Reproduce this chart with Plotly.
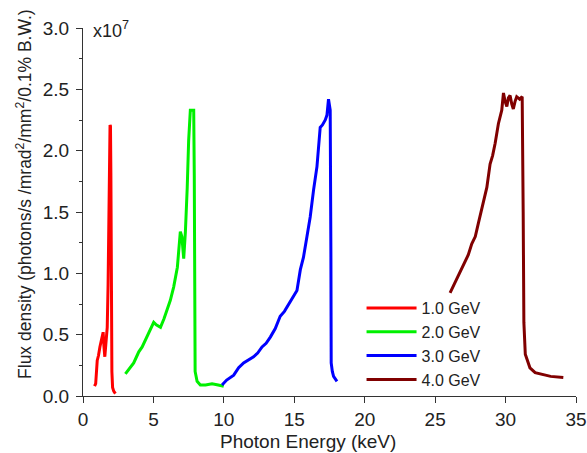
import plotly.graph_objects as go

# Photon energy (keV) and flux density (x1e7 photons/s/mrad^2/mm^2/0.1% B.W.)
e_1gev = [0.82, 0.90, 1.01, 1.10, 1.20, 1.30, 1.43, 1.49, 1.55, 1.62, 1.72, 1.78, 1.84, 1.88, 1.92, 1.95, 1.98, 2.01, 2.05, 2.10, 2.18, 2.30]
f_1gev = [0.08, 0.10, 0.29, 0.33, 0.40, 0.45, 0.52, 0.40, 0.32, 0.42, 0.56, 0.90, 1.45, 1.90, 2.21, 2.20, 1.80, 0.90, 0.20, 0.07, 0.04, 0.02]

e_2gev = [3.01, 3.30, 3.60, 3.80, 3.96, 4.20, 4.43, 4.60, 4.79, 5.02, 5.20, 5.50, 5.75, 5.97, 6.20, 6.44, 6.70, 6.91, 7.02, 7.15, 7.27, 7.40, 7.50, 7.62, 7.75, 7.86, 7.90, 7.92, 7.96, 8.10, 8.33, 8.70, 9.16, 9.60, 9.99]
f_2gev = [0.18, 0.22, 0.27, 0.32, 0.36, 0.40, 0.46, 0.49, 0.54, 0.60, 0.58, 0.56, 0.63, 0.70, 0.78, 0.89, 1.05, 1.34, 1.30, 1.12, 1.34, 1.70, 2.08, 2.33, 2.33, 2.33, 1.80, 0.60, 0.20, 0.12, 0.09, 0.09, 0.10, 0.09, 0.08]

e_3gev = [9.87, 10.20, 10.70, 11.05, 11.40, 12.11, 12.40, 12.71, 13.00, 13.30, 13.65, 14.00, 14.30, 14.60, 14.90, 15.19, 15.43, 15.65, 15.90, 16.13, 16.37, 16.61, 16.84, 17.00, 17.20, 17.32, 17.43, 17.55, 17.60, 17.62, 17.70, 17.79, 18.03]
f_3gev = [0.09, 0.13, 0.17, 0.23, 0.27, 0.32, 0.35, 0.40, 0.43, 0.48, 0.55, 0.65, 0.69, 0.75, 0.81, 0.86, 1.03, 1.13, 1.30, 1.46, 1.68, 1.87, 2.19, 2.21, 2.25, 2.29, 2.42, 2.33, 1.13, 0.27, 0.20, 0.16, 0.12]

e_4gev = [26.06, 26.40, 26.77, 27.13, 27.35, 27.60, 27.85, 28.07, 28.25, 28.43, 28.67, 28.90, 29.08, 29.26, 29.49, 29.73, 29.85, 29.97, 30.09, 30.20, 30.32, 30.44, 30.55, 30.67, 30.79, 31.00, 31.18, 31.25, 31.30, 31.40, 31.55, 31.73, 32.10, 32.44, 33.20, 34.10]
f_4gev = [0.84, 0.92, 1.01, 1.09, 1.15, 1.24, 1.30, 1.41, 1.50, 1.60, 1.70, 1.89, 1.96, 2.06, 2.22, 2.33, 2.47, 2.40, 2.36, 2.43, 2.45, 2.38, 2.34, 2.40, 2.44, 2.42, 2.44, 1.50, 0.60, 0.34, 0.28, 0.23, 0.19, 0.18, 0.16, 0.15]

series_names = ["1.0 GeV", "2.0 GeV", "3.0 GeV", "4.0 GeV"]
series_colors = ["#FF0000", "#00F000", "#0000FF", "#800000"]
series_x = [e_1gev, e_2gev, e_3gev, e_4gev]
series_y = [f_1gev, f_2gev, f_3gev, f_4gev]

x_ticks = [0, 5, 10, 15, 20, 25, 30, 35]
y_ticks = [0.0, 0.5, 1.0, 1.5, 2.0, 2.5, 3.0]

x_title = "Photon Energy (keV)"
y_title = "Flux density (photons/s /mrad<sup>2</sup>/mm<sup>2</sup>/0.1% B.W.)"
scale_label = "x10<sup>7</sup>"

FONT = "Arial, 'Liberation Sans', sans-serif"
AXIS_COLOR = "#333333"
TEXT_COLOR = "#222222"

fig = go.Figure()
for name, color, xs, ys in zip(series_names, series_colors, series_x, series_y):
    fig.add_trace(go.Scatter(x=xs, y=ys, mode="lines", name=name, legendgroup=name,
                             line=dict(color=color, width=3)))

fig.update_layout(
    width=587, height=453,
    margin=dict(l=82.5, r=11, t=27.5, b=57, autoexpand=False),
    paper_bgcolor="white", plot_bgcolor="white",
    font=dict(family=FONT, size=19, color=TEXT_COLOR),
    showlegend=True,
    legend=dict(x=0.565, y=0.285, xanchor="left", yanchor="top",
                font=dict(size=16, color=TEXT_COLOR), bgcolor="rgba(0,0,0,0)",
                itemwidth=50, tracegroupgap=0, traceorder="grouped"),
    annotations=[
        dict(text=scale_label, xref="paper", yref="paper",
             x=0.017, y=0.997, xanchor="left", yanchor="middle",
             showarrow=False, font=dict(size=18, color=TEXT_COLOR)),
        dict(text=x_title, xref="paper", yref="paper",
             x=0.456, y=-0.123, xanchor="center", yanchor="middle",
             showarrow=False, font=dict(size=19, color=TEXT_COLOR)),
        dict(text=y_title, xref="paper", yref="paper", textangle=-90,
             x=-0.121, y=0.55, xanchor="center", yanchor="middle",
             showarrow=False, font=dict(size=17.5, color=TEXT_COLOR)),
    ],
)

fig.update_xaxes(
    range=[0, 35], tickvals=x_ticks, ticktext=[str(v) for v in x_ticks],
    showgrid=False, zeroline=False, showline=True, linecolor=AXIS_COLOR, linewidth=1.2,
    ticks="outside", ticklen=6, tickcolor=AXIS_COLOR, tickwidth=1.2, automargin=False,
)
fig.update_yaxes(
    range=[0, 3.0], tickvals=y_ticks, ticktext=[f"{v:.1f}" for v in y_ticks],
    showgrid=False, zeroline=False, showline=True, linecolor=AXIS_COLOR, linewidth=1.2,
    ticks="outside", ticklen=6, tickcolor=AXIS_COLOR, tickwidth=1.2, automargin=False,
    ticklabelstandoff=3,
    minor=dict(dtick=0.25, ticks="outside", ticklen=3, tickcolor=AXIS_COLOR, tickwidth=1.2),
)

# remove the browser's default 8px body margin so the 587x453 figure fills the window
fig.write_html("out.html", config={"displayModeBar": False},
               post_script="document.body.style.margin='0';document.body.style.overflow='hidden';")
